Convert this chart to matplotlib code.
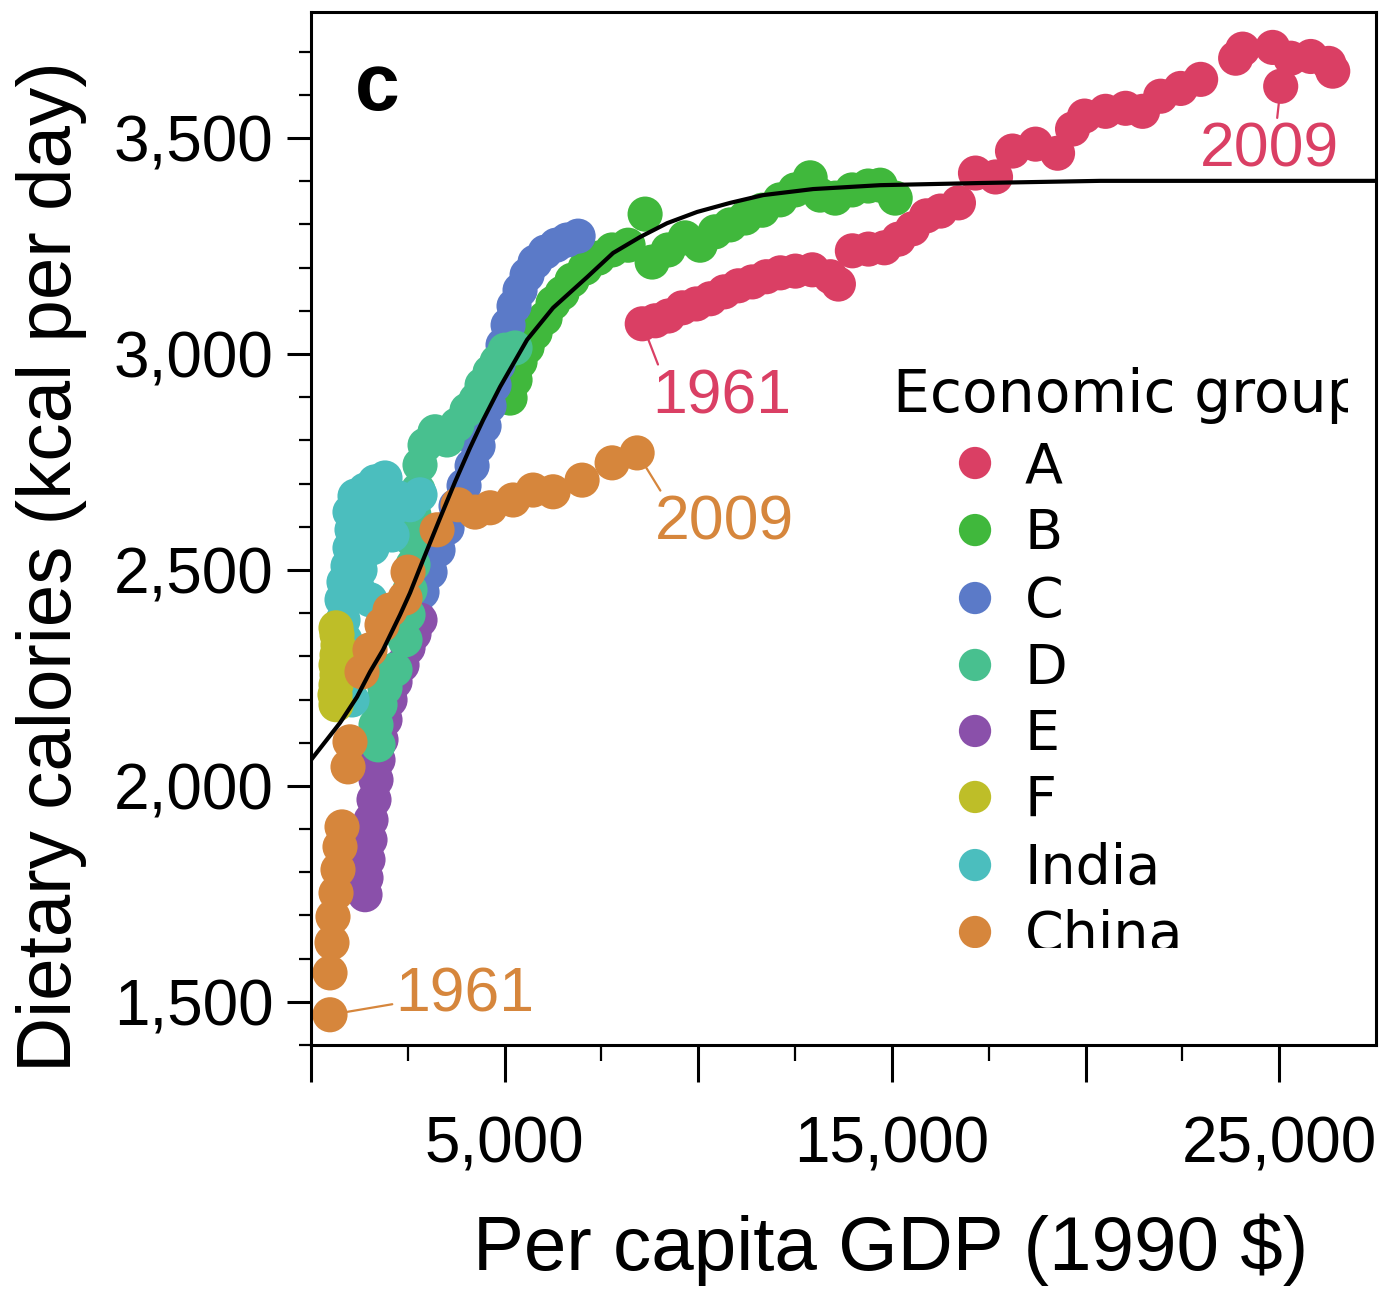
import matplotlib
matplotlib.use("Agg")
import matplotlib.pyplot as plt
from matplotlib.ticker import FixedLocator, FuncFormatter
from matplotlib.transforms import Bbox, TransformedBbox

plt.rcParams['font.family'] = ['Liberation Sans', 'DejaVu Sans']

# ---- trajectories 1961-2009: per capita GDP (1990 $) and dietary kcal per day ----
a_gdp = [8553, 8889, 9225, 9587, 9948, 10310, 10672, 11034, 11395, 11757, 12119,
         12507, 12946, 13411, 13618, 13979, 14393, 14806, 15168, 15530, 15892,
         16253, 16718, 17158, 17675, 18114, 18708, 19277, 19664, 19974, 20517,
         21034, 21473, 21938, 22455, 22972, 23876, 24057, 24832, 25297, 25814,
         26279, 26383, 25039]
a_kcal = [3070, 3077, 3088, 3107, 3116, 3128, 3144, 3158, 3167, 3179, 3188,
          3192, 3195, 3179, 3162, 3239, 3243, 3246, 3266, 3290, 3320,
          3331, 3350, 3419, 3410, 3470, 3486, 3465, 3521, 3551, 3562,
          3569, 3562, 3597, 3615, 3636, 3685, 3706, 3710, 3685, 3689,
          3673, 3655, 3620]

b_gdp = [5140, 5269, 5398, 5579, 5786, 6044, 6251, 6483, 6742, 7077, 7413,
         7775, 8188, 8627, 8808, 9221, 9660, 10048, 10435, 10823, 11210,
         11649, 12114, 12502, 12889, 13147, 13535, 13974, 14387, 14697, 15085]
b_kcal = [2898, 2940, 2982, 3016, 3049, 3083, 3118, 3141, 3171, 3199, 3222,
          3241, 3252, 3324, 3213, 3241, 3269, 3252, 3283, 3299, 3315,
          3333, 3357, 3380, 3408, 3368, 3361, 3380, 3389, 3391, 3361]

c_gdp = [2686, 2867, 3074, 3280, 3513, 3745, 3952, 4159, 4314, 4469, 4598,
         4727, 4830, 4959, 5089, 5243, 5398, 5579, 5786, 6044, 6328, 6612, 6897]
c_kcal = [2407, 2449, 2495, 2546, 2597, 2648, 2695, 2741, 2787, 2833, 2880,
          2928, 2975, 3021, 3067, 3111, 3148, 3183, 3213, 3236, 3252, 3264, 3273]

d_gdp = [1731, 1679, 1782, 1911, 2170, 2428, 2506, 2557, 2635, 2609, 2660,
         2764, 2815, 2945, 3203, 3513, 3771, 4029, 4262, 4417, 4624, 4804,
         5011, 5269]
d_kcal = [2095, 2141, 2188, 2227, 2269, 2338, 2396, 2454, 2512, 2570, 2627,
          2685, 2743, 2789, 2820, 2801, 2836, 2870, 2894, 2928, 2958, 2982,
          3009, 3014]

e_gdp = [1395, 1421, 1472, 1524, 1550, 1627, 1679, 1731, 1808, 1911, 2041,
         2170, 2351, 2506, 2660, 2815]
e_kcal = [1748, 1787, 1829, 1875, 1921, 1968, 2014, 2060, 2107, 2153, 2199,
          2241, 2280, 2320, 2352, 2384]

f_gdp = [646, 620, 646, 672, 646, 672, 697, 672, 646]
f_kcal = [2188, 2211, 2234, 2257, 2280, 2303, 2326, 2350, 2366]

india_gdp = [1059, 1007, 930, 878, 827, 801, 852, 956, 1007, 1059, 1007,
             1137, 1395, 1653, 1911, 1576, 1317, 1731, 2041, 2247, 2092,
             1576, 1266, 1214, 1524, 2557, 2815]
india_kcal = [2199, 2245, 2292, 2338, 2384, 2431, 2472, 2509, 2551, 2593, 2634,
              2671, 2685, 2704, 2713, 2639, 2593, 2616, 2634, 2667, 2581,
              2551, 2500, 2454, 2431, 2651, 2674]

china_gdp = [491, 491, 542, 568, 646, 697, 749, 801, 956, 1007, 1317, 1524,
             1834, 2041, 2428, 2506, 3255, 3797, 4236, 4624, 5218, 5734,
             6251, 7000, 7775, 8421]
china_kcal = [1470, 1567, 1637, 1697, 1752, 1806, 1859, 1905, 2044, 2102, 2264,
              2315, 2373, 2407, 2435, 2495, 2593, 2651, 2634, 2644, 2662, 2685,
              2681, 2708, 2748, 2771]

# fitted saturation curve, sampled along the GDP axis
fit_gdp = [0, 749, 1188, 1524, 1860, 2299, 2557, 2893, 3332, 3720, 4107,
           4443, 4882, 5579, 6251, 7129, 7801, 8498, 9195, 9970, 10823,
           11675, 12967, 14697, 17280, 20380, 24254, 27509]
fit_kcal = [2060, 2146, 2206, 2264, 2315, 2396, 2447, 2523, 2620, 2704, 2783,
            2847, 2924, 3033, 3107, 3178, 3234, 3271, 3303, 3329, 3350,
            3368, 3382, 3391, 3396, 3401, 3401, 3401]

group_names = ['A', 'B', 'C', 'D', 'E', 'F', 'India', 'China']
group_colors = ['#DA3F64', '#40B83C', '#5B7AC8', '#48C08F', '#8A50AA',
                '#BEBE28', '#4BBEBE', '#D6863C']
series = {
    'A': (a_gdp, a_kcal), 'B': (b_gdp, b_kcal), 'C': (c_gdp, c_kcal),
    'D': (d_gdp, d_kcal), 'E': (e_gdp, e_kcal), 'F': (f_gdp, f_kcal),
    'India': (india_gdp, india_kcal), 'China': (china_gdp, china_kcal),
}
draw_order = ['A', 'B', 'C', 'E', 'D', 'India', 'F', 'China']

fig = plt.figure(figsize=(13.8, 12.9), dpi=100)
ax = fig.add_axes([311 / 1380, 245 / 1290, 1065 / 1380, 1033 / 1290])

color_of = dict(zip(group_names, group_colors))
for name in draw_order:
    gx, gy = series[name]
    ax.scatter(gx, gy, s=640, color=color_of[name], edgecolors='none',
               zorder=2, clip_on=False)

ax.plot(fit_gdp, fit_kcal, color='black', lw=3.0, zorder=4,
        solid_capstyle='butt', solid_joinstyle='round')

# year annotations at trajectory ends
label_font = dict(fontsize=45, family=['Liberation Sans', 'DejaVu Sans'])
def year_label(txt, point, text_xy, color, relpos):
    ax.annotate(txt, xy=point, xytext=text_xy, textcoords='data',
                ha='left', va='center', color=color, zorder=5,
                arrowprops=dict(arrowstyle='-', color=color, lw=1.6,
                                shrinkA=0, shrinkB=10, relpos=relpos),
                **label_font)

year_label('1961', (a_gdp[0], a_kcal[0]), (8808, 2901), color_of['A'], (0.05, 1.0))
year_label('2009', (a_gdp[-1], a_kcal[-1]), (22963, 3472), color_of['A'], (0.55, 1.0))
year_label('1961', (china_gdp[0], china_kcal[0]), (2170, 1516), color_of['China'], (0.0, 0.35))
year_label('2009', (china_gdp[-1], china_kcal[-1]), (8886, 2609), color_of['China'], (0.05, 1.0))

# axes limits and ticks
ax.set_xlim(0, 27500)
ax.set_ylim(1400, 3792)
ax.xaxis.set_major_locator(FixedLocator([0, 5000, 10000, 15000, 20000, 25000]))
ax.xaxis.set_minor_locator(FixedLocator([2500, 7500, 12500, 17500, 22500]))
ax.xaxis.set_major_formatter(FuncFormatter(
    lambda v, p: f"{int(v):,}" if int(v) in (5000, 15000, 25000) else ''))
ax.yaxis.set_major_locator(FixedLocator([1500, 2000, 2500, 3000, 3500]))
ax.yaxis.set_minor_locator(FixedLocator(list(range(1400, 3800, 100))))
ax.yaxis.set_major_formatter(FuncFormatter(lambda v, p: f"{int(v):,}"))

ax.tick_params(axis='x', which='major', length=26.5, width=2.2, pad=24,
               labelsize=46, direction='out')
ax.tick_params(axis='x', which='minor', length=11.5, width=1.6, direction='out')
ax.tick_params(axis='y', which='major', length=17, width=2.2, pad=10,
               labelsize=46, direction='out')
ax.tick_params(axis='y', which='minor', length=8.5, width=1.6, direction='out')
for sp in ax.spines.values():
    sp.set_linewidth(2.2)

fig.text(52 / 1380, 0.5605, 'Dietary calories (kcal per day)', rotation=90,
         ha='center', va='center', fontsize=55)
fig.text(891 / 1380, 20 / 1290, 'Per capita GDP (1990 $)', ha='center',
         va='baseline', fontsize=55)

ax.text(0.041, 0.905, 'c', transform=ax.transAxes, fontsize=58,
        fontweight='bold', ha='left', va='baseline')

# economic group key, clipped to its panel
clip = TransformedBbox(Bbox([[0.534, 0.0939], [0.9737, 0.668]]), ax.transAxes)
title = ax.text(0.5465, 0.6128, 'Economic group', transform=ax.transAxes,
                fontsize=42, family='DejaVu Sans', ha='left', va='baseline',
                zorder=6)
title.set_clip_box(clip)
title.set_clip_on(True)
row_y = [0.5634, 0.4985, 0.4327, 0.3679, 0.3040, 0.2401, 0.1742, 0.1094]
for name, col, yy in zip(group_names, group_colors, row_y):
    m = ax.scatter([0.6235], [yy], s=540, color=col, edgecolors='none',
                   transform=ax.transAxes, zorder=6)
    m.set_clip_box(clip)
    m.set_clip_on(True)
    t = ax.text(0.6704, yy - 0.004, name, transform=ax.transAxes, fontsize=40,
                family='DejaVu Sans', ha='left', va='center', zorder=6)
    t.set_clip_box(clip)
    t.set_clip_on(True)

fig.savefig('out.png', dpi=100)
